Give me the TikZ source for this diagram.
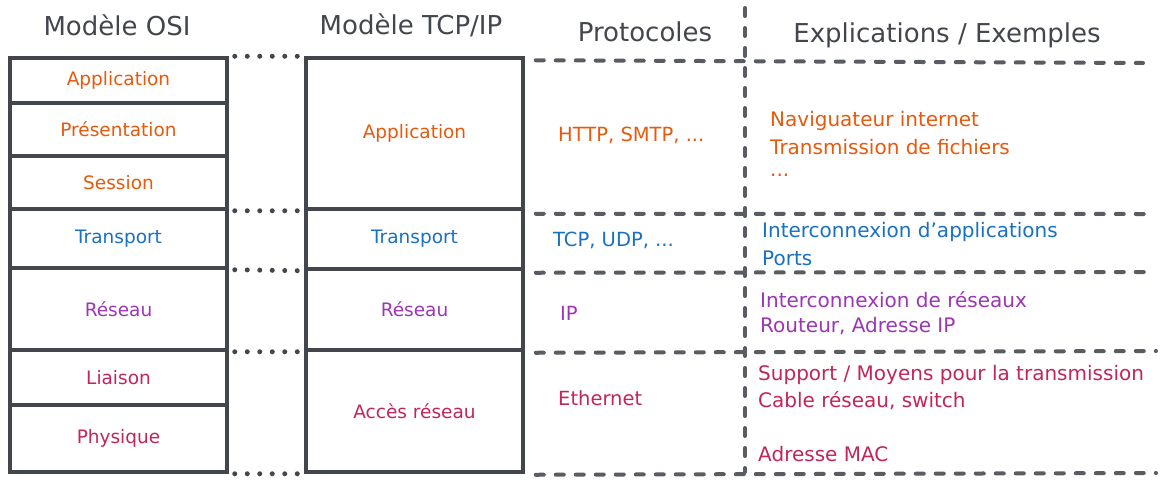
\documentclass[tikz,border=0pt]{standalone}
\usepackage{fontspec}
\setmainfont{DejaVu Sans}
\definecolor{ink}{HTML}{43474D}
\definecolor{dash}{HTML}{595D63}
\definecolor{cOrange}{HTML}{E8590C}
\definecolor{cBlue}{HTML}{1971C2}
\definecolor{cPurple}{HTML}{9C36B5}
\definecolor{cRed}{HTML}{C2255C}
\begin{document}
\begin{tikzpicture}[x=1pt,y=-1pt,
  cell/.style={draw=ink, line width=3.5pt, minimum width=217pt, inner sep=0pt, font=\fontsize{18.5}{20}\selectfont},
  head/.style={text=ink, font=\fontsize{26}{28}\selectfont, inner sep=0pt},
  proto/.style={anchor=west, inner sep=0pt, font=\fontsize{19.5}{22}\selectfont},
  expl/.style={anchor=west, inner sep=0pt, font=\fontsize{20}{22}\selectfont},
  dotln/.style={draw=ink, line width=5pt, line cap=round, dash pattern=on 0pt off 12.5pt},
  dashln/.style={draw=dash, line width=4pt, line cap=round, dash pattern=on 8pt off 12pt}]
\useasboundingbox[fill=white] (0,0) rectangle (1174,485);

% headers
\node[head] (hOSI) at (117,25) {Modèle OSI};
\node[head] (hTCP) at (411,25) {Modèle TCP/IP};
\node[head] (hProt) at (645,32) {Protocoles};
\node[head] (hExpl) at (947,35) {Explications / Exemples};

% OSI model
\node[cell, minimum height=45pt, text=cOrange] (oApp) at (118.5,80.5) {Application};
\node[cell, minimum height=53pt, text=cOrange] (oPres) at (118.5,129.5) {Présentation};
\node[cell, minimum height=53pt, text=cOrange] (oSess) at (118.5,182.5) {Session};
\node[cell, minimum height=59pt, text=cBlue] (oTrans) at (118.5,238.5) {Transport};
\node[cell, minimum height=82pt, text=cPurple] (oRes) at (118.5,309) {Réseau};
\node[cell, minimum height=55pt, text=cRed] (oLia) at (118.5,377.5) {Liaison};
\node[cell, minimum height=67pt, text=cRed] (oPhy) at (118.5,438.5) {Physique};

% TCP/IP model
\node[cell, minimum height=151pt, text=cOrange] (tApp) at (414.5,133.5) {Application};
\node[cell, minimum height=60pt, text=cBlue] (tTrans) at (414.5,239) {Transport};
\node[cell, minimum height=81pt, text=cPurple] (tRes) at (414.5,309.5) {Réseau};
\node[cell, minimum height=122pt, text=cRed] (tAcc) at (414.5,411) {Accès réseau};

% dotted correspondences
\draw[dotln] ([xshift=6pt]oApp.north east) -- ([xshift=-4pt]tApp.north west);
\draw[dotln] ([xshift=6pt]oSess.south east) -- ([xshift=-4pt]tApp.south west);
\draw[dotln] ([xshift=6pt]oTrans.south east) -- ([xshift=-4pt]tTrans.south west);
\draw[dotln] ([xshift=6pt]oRes.south east) -- ([xshift=-4pt]tRes.south west);
\draw[dotln] ([xshift=6pt]oPhy.south east) -- ([xshift=-4pt]tAcc.south west);

% table grid
\coordinate (e1) at (1143,63);
\coordinate (e2) at (1150,214);
\coordinate (e3) at (1155,272);
\coordinate (e4) at (1156,351);
\coordinate (e5) at (1156,473);
\coordinate (vTop) at (745,8);
\coordinate (vBot) at (745,472);
\draw[dashln] ([xshift=11pt,yshift=-4pt]tApp.north east) -- (e1);
\draw[dashln] ([xshift=11pt,yshift=-3pt]tApp.south east) -- (e2);
\draw[dashln] ([xshift=11pt,yshift=-2pt]tTrans.south east) -- (e3);
\draw[dashln] ([xshift=11pt,yshift=-1pt]tRes.south east) -- (e4);
\draw[dashln] ([xshift=11pt,yshift=-1pt]tAcc.south east) -- (e5);
\draw[dashln] (vTop) -- (vBot);

% protocols
\node[proto, text=cOrange] (pApp) at (558,135) {HTTP, SMTP, ...};
\node[proto, text=cBlue] (pTrans) at (553,240) {TCP, UDP, ...};
\node[proto, text=cPurple] (pRes) at (560,313) {IP};
\node[proto, text=cRed] (pAcc) at (558,398) {Ethernet};

% explanations
\node[expl, text=cOrange] (x1) at (770,121) {Naviguateur internet};
\node[expl, text=cOrange] (x2) at (770,147) {Transmission de fichiers};
\node[expl, text=cOrange] (x3) at (770,175) {...};
\node[expl, text=cBlue] (x4) at (762,232) {Interconnexion d'applications};
\node[expl, text=cBlue] (x5) at (762,258) {Ports};
\node[expl, text=cPurple] (x6) at (760,300) {Interconnexion de réseaux};
\node[expl, text=cPurple] (x7) at (760,326) {Routeur, Adresse IP};
\node[expl, text=cRed] (x8) at (758,375) {Support / Moyens pour la transmission};
\node[expl, text=cRed] (x9) at (758,401) {Cable réseau, switch};
\node[expl, text=cRed] (x10) at (758,454) {Adresse MAC};
\end{tikzpicture}
\end{document}
